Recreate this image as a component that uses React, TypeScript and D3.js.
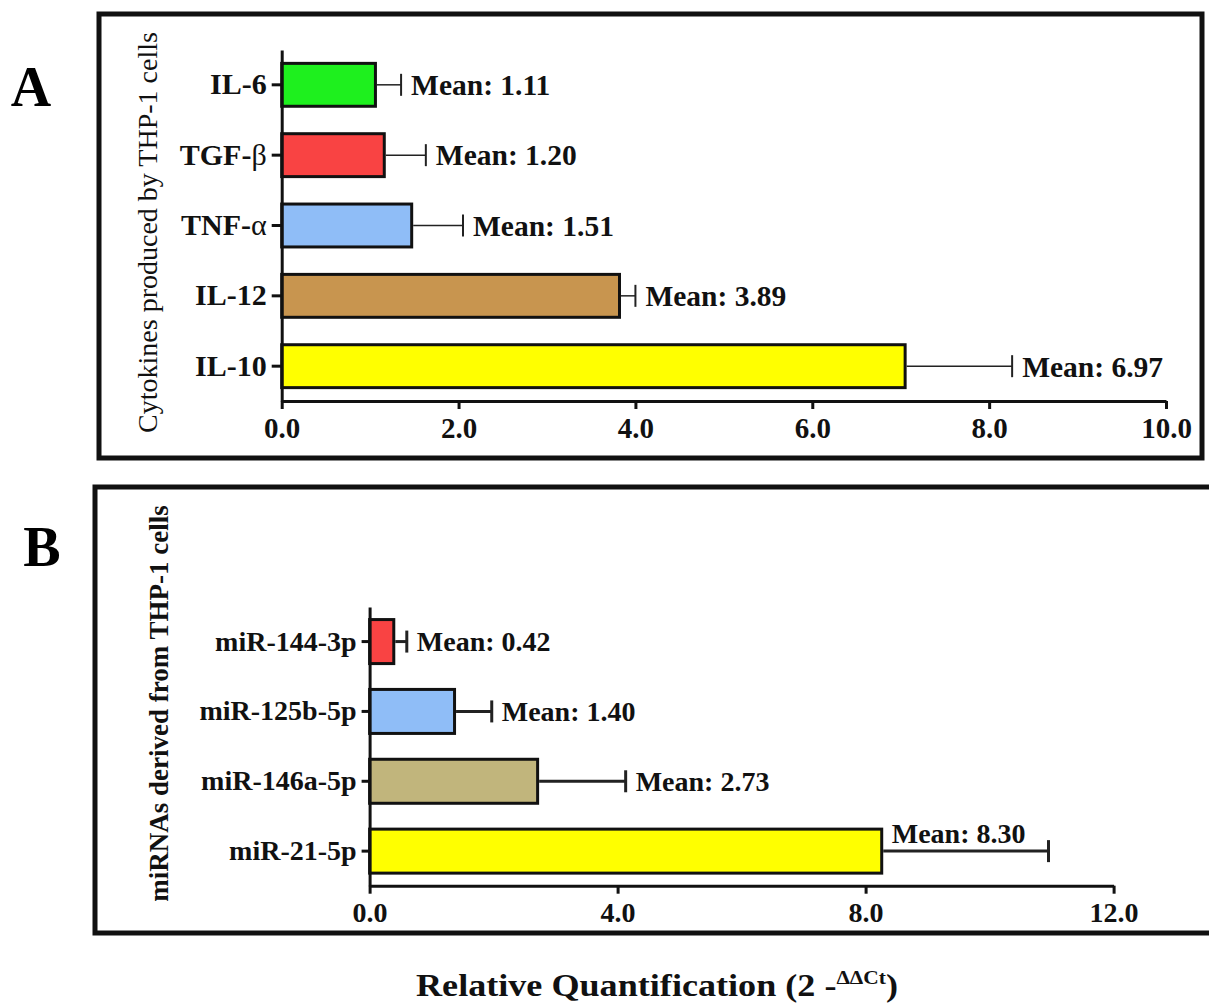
import React, { useEffect, useRef } from 'react';
import * as d3 from 'd3';

// Panel A: cytokines
const cytokines = ['IL-6', 'TGF-β', 'TNF-α', 'IL-12', 'IL-10'];
const cytokineValues = [1.06, 1.16, 1.47, 3.82, 7.05];
const cytokineErrors = [0.29, 0.47, 0.58, 0.18, 1.21];
const cytokineMeans = ['1.11', '1.20', '1.51', '3.89', '6.97'];
const cytokineColors = ['#1ef01e', '#f94343', '#8fbdf7', '#c8954f', '#ffff00'];
const cytokineTicks = [0, 2, 4, 6, 8, 10];

// Panel B: miRNAs
const mirnas = ['miR-144-3p', 'miR-125b-5p', 'miR-146a-5p', 'miR-21-5p'];
const mirnaValues = [0.39, 1.37, 2.71, 8.26];
const mirnaErrors = [0.21, 0.6, 1.42, 2.69];
const mirnaMeans = ['0.42', '1.40', '2.73', '8.30'];
const mirnaColors = ['#f94343', '#8fbdf7', '#c1b57c', '#ffff00'];
const mirnaTicks = [0, 4, 8, 12];

const FONT = '"Liberation Serif", "Times New Roman", serif';

const W = 1209;
const H = 1006;

function addLabel(sel, label) {
  // greek letters in a lighter weight, like the Symbol font in the original
  const parts = label.split(/([α-ω])/).filter(p => p !== '');
  parts.forEach(p => {
    sel.append('tspan')
      .attr('font-weight', /[α-ω]/.test(p) ? 'normal' : 'bold')
      .text(p);
  });
}

function drawPanel(svg, cfg) {
  const g = svg.append('g');
  const x = d3.scaleLinear().domain([0, cfg.max]).range([cfg.x0, cfg.x1]);
  const y = d3.scaleBand()
    .domain(cfg.cats)
    .range([cfg.y0, cfg.y1])
    .paddingInner(cfg.padIn)
    .paddingOuter(cfg.padOut);

  // bars
  g.selectAll('.bar')
    .data(cfg.cats)
    .enter()
    .append('rect')
    .attr('x', x(0))
    .attr('y', d => y(d))
    .attr('width', (d, i) => x(cfg.values[i]) - x(0))
    .attr('height', y.bandwidth())
    .attr('fill', (d, i) => cfg.colors[i])
    .attr('stroke', '#111')
    .attr('stroke-width', 3);

  // error bars (upper only)
  cfg.cats.forEach((c, i) => {
    const cy = y(c) + y.bandwidth() / 2;
    const xe = x(cfg.values[i] + cfg.errors[i]);
    g.append('line')
      .attr('x1', x(cfg.values[i]) + 1.5).attr('x2', xe)
      .attr('y1', cy).attr('y2', cy)
      .attr('stroke', '#222').attr('stroke-width', cfg.errW);
    g.append('line')
      .attr('x1', xe).attr('x2', xe)
      .attr('y1', cy - 11).attr('y2', cy + 11)
      .attr('stroke', '#222').attr('stroke-width', cfg.capW);

    const above = cfg.labelAbove && cfg.labelAbove[i];
    g.append('text')
      .attr('x', above ? x(cfg.values[i]) + 10 : xe + 10)
      .attr('y', above ? cy - 18 : cy)
      .attr('dy', '0.35em')
      .attr('font-family', FONT)
      .attr('font-weight', 'bold')
      .attr('font-size', cfg.meanSize)
      .attr('fill', '#111')
      .text(`Mean: ${cfg.means[i]}`);
  });

  // x axis
  const gx = g.append('g')
    .attr('transform', `translate(0,${cfg.y1})`)
    .call(d3.axisBottom(x)
      .tickValues(cfg.ticks)
      .tickFormat(d3.format('.1f'))
      .tickSize(8)
      .tickSizeOuter(0)
      .tickPadding(8));
  gx.attr('font-family', FONT).attr('font-size', cfg.tickSize).attr('font-weight', 'bold');
  gx.select('.domain').attr('stroke', '#111').attr('stroke-width', 3);
  gx.selectAll('.tick line').attr('stroke', '#111').attr('stroke-width', 3);
  gx.selectAll('.tick text').attr('fill', '#111');

  // y axis
  const gy = g.append('g')
    .attr('transform', `translate(${cfg.x0},0)`)
    .call(d3.axisLeft(y).tickSize(cfg.yTick).tickSizeOuter(0).tickPadding(5));
  gy.attr('font-family', FONT).attr('font-size', cfg.catSize);
  gy.select('.domain').attr('stroke', '#111').attr('stroke-width', 3);
  gy.selectAll('.tick line').attr('stroke', '#111').attr('stroke-width', 3);
  gy.selectAll('.tick text')
    .attr('fill', '#111')
    .each(function (d) {
      const t = d3.select(this);
      t.text(null);
      addLabel(t, d);
    });

  // axis title
  svg.append('text')
    .attr('transform', `translate(${cfg.titleX},${(cfg.titleTop + cfg.titleBottom) / 2}) rotate(-90)`)
    .attr('text-anchor', 'middle')
    .attr('font-family', FONT)
    .attr('font-weight', cfg.titleWeight)
    .attr('font-size', cfg.titleSize)
    .attr('fill', '#111')
    .text(cfg.title);
}

export default function App() {
  const svgRef = useRef(null);

  useEffect(() => {
    const svg = d3.select(svgRef.current);
    svg.selectAll('*').remove();

    svg.append('rect').attr('width', W).attr('height', H).attr('fill', '#fff');

    // panel frames
    svg.append('rect')
      .attr('x', 99).attr('y', 14).attr('width', 1103).attr('height', 444)
      .attr('fill', 'none').attr('stroke', '#111').attr('stroke-width', 5);
    svg.append('rect')
      .attr('x', 95).attr('y', 487).attr('width', 1140).attr('height', 446)
      .attr('fill', 'none').attr('stroke', '#111').attr('stroke-width', 5);

    // panel letters
    svg.append('text')
      .attr('x', 31).attr('y', 106)
      .attr('text-anchor', 'middle')
      .attr('font-family', FONT).attr('font-weight', 'bold').attr('font-size', 56)
      .text('A');
    svg.append('text')
      .attr('x', 42).attr('y', 566)
      .attr('text-anchor', 'middle')
      .attr('font-family', FONT).attr('font-weight', 'bold').attr('font-size', 56)
      .text('B');

    drawPanel(svg, {
      cats: cytokines,
      values: cytokineValues,
      errors: cytokineErrors,
      means: cytokineMeans,
      colors: cytokineColors,
      ticks: cytokineTicks,
      max: 10,
      x0: 281.7, x1: 1166,
      y0: 50, y1: 401,
      padIn: 0.39, padOut: 0.19,
      errW: 1.5, capW: 2,
      yTick: 10,
      catSize: 30, meanSize: 29.5, tickSize: 29,
      title: 'Cytokines produced by THP-1 cells',
      titleX: 157, titleTop: 32, titleBottom: 433,
      titleWeight: 'normal', titleSize: 28,
    });

    drawPanel(svg, {
      cats: mirnas,
      values: mirnaValues,
      errors: mirnaErrors,
      means: mirnaMeans,
      colors: mirnaColors,
      ticks: mirnaTicks,
      max: 12,
      x0: 369.6, x1: 1113.6,
      y0: 607, y1: 885.7,
      padIn: 0.37, padOut: 0.18,
      errW: 3, capW: 3,
      yTick: 8,
      catSize: 28, meanSize: 28, tickSize: 28,
      labelAbove: [false, false, false, true],
      title: 'miRNAs derived from THP-1 cells',
      titleX: 168, titleTop: 505, titleBottom: 902,
      titleWeight: 'bold', titleSize: 27,
    });

    // shared x title
    const xt = svg.append('text')
      .attr('x', 657).attr('y', 996)
      .attr('text-anchor', 'middle')
      .attr('font-family', FONT).attr('font-weight', 'bold').attr('font-size', 32)
      .attr('textLength', 482).attr('lengthAdjust', 'spacingAndGlyphs')
      .attr('fill', '#111');
    xt.append('tspan').text('Relative Quantification (2 -');
    xt.append('tspan').attr('font-size', 19).attr('dy', -12).text('ΔΔCt');
    xt.append('tspan').attr('dy', 12).text(')');
  }, []);

  return (
    <svg
      ref={svgRef}
      width={W}
      height={H}
      style={{ position: 'absolute', left: 0, top: 0, display: 'block' }}
    />
  );
}
